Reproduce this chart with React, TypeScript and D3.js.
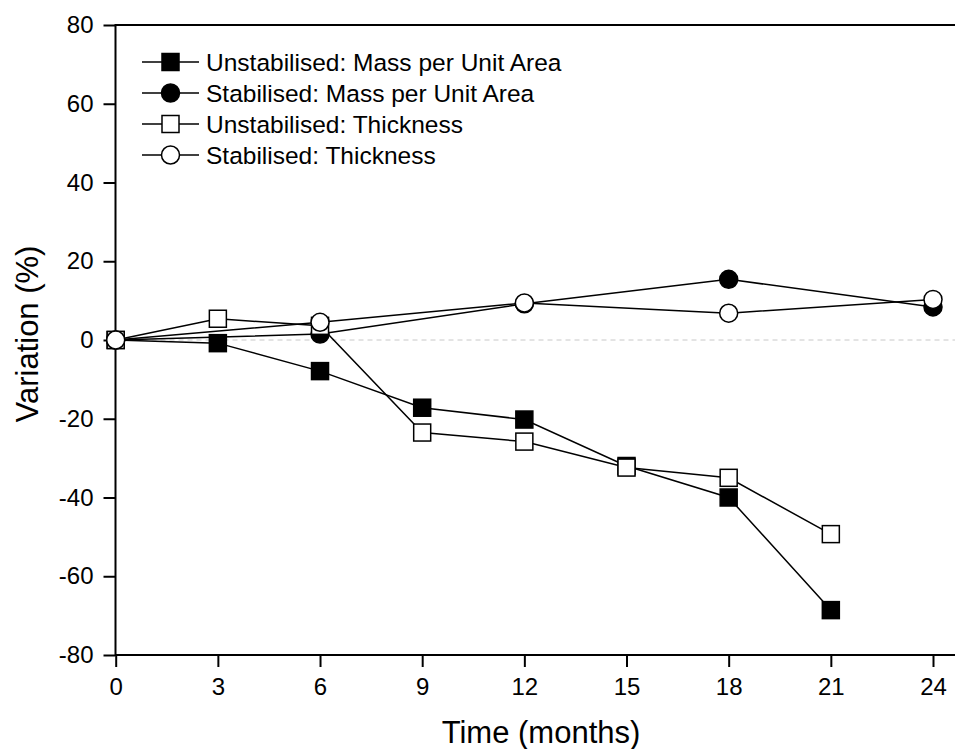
import React from 'react';
import * as d3 from 'd3';

// Time points (months) for each series
const monthsA = [0, 3, 6, 9, 12, 15, 18, 21];
const unstabMass = [0, -0.8, -7.9, -17.2, -20.2, -32, -40, -68.6];
const unstabThick = [0, 5.4, 3.6, -23.5, -25.8, -32.4, -35, -49.3];

const monthsB = [0, 6, 12, 18, 24];
const stabMass = [0, 1.5, 9.2, 15.4, 8.4];
const stabThick = [0, 4.5, 9.4, 6.8, 10.3];

const xTicks = [0, 3, 6, 9, 12, 15, 18, 21, 24];
const yTicks = [-80, -60, -40, -20, 0, 20, 40, 60, 80];

const seriesList = [
  { name: 'Unstabilised: Mass per Unit Area', x: monthsA, y: unstabMass, shape: 'square', fill: '#000' },
  { name: 'Stabilised: Mass per Unit Area', x: monthsB, y: stabMass, shape: 'circle', fill: '#000' },
  { name: 'Unstabilised: Thickness', x: monthsA, y: unstabThick, shape: 'square', fill: '#fff' },
  { name: 'Stabilised: Thickness', x: monthsB, y: stabThick, shape: 'circle', fill: '#fff' },
];

const App = () => {
  const ref = React.useRef<SVGSVGElement>(null);

  React.useEffect(() => {
    const svg = d3.select(ref.current);
    svg.selectAll('*').remove();

    const font = 'Arial, "Liberation Sans", sans-serif';
    const left = 115.5, top = 25, bottom = 655;
    const x = d3.scaleLinear().domain([0, 24]).range([115.7, 933]);
    const y = d3.scaleLinear().domain([-80, 80]).range([bottom, top]);

    // zero reference line
    svg.append('line')
      .attr('x1', left).attr('x2', 955)
      .attr('y1', y(0)).attr('y2', y(0))
      .attr('stroke', '#c8c8c8').attr('stroke-width', 1)
      .attr('stroke-dasharray', '5,4');

    // frame
    svg.append('rect')
      .attr('x', left).attr('y', top)
      .attr('width', 900).attr('height', bottom - top)
      .attr('fill', 'none').attr('stroke', '#000').attr('stroke-width', 2);

    // y axis
    const yAxis = svg.append('g')
      .attr('transform', `translate(${left},0)`)
      .call(d3.axisLeft(y).tickValues(yTicks).tickSize(12).tickPadding(10).tickFormat((d) => String(d)));
    yAxis.select('.domain').remove();
    yAxis.selectAll('line').attr('stroke-width', 2);
    yAxis.selectAll('text')
      .attr('font-family', font).attr('font-size', 24).attr('fill', '#000');

    // x axis
    const xAxis = svg.append('g')
      .attr('transform', `translate(0,${bottom})`)
      .call(d3.axisBottom(x).tickValues(xTicks).tickSize(12).tickPadding(11).tickFormat((d) => String(d)));
    xAxis.select('.domain').remove();
    xAxis.selectAll('line').attr('stroke-width', 2);
    xAxis.selectAll('text')
      .attr('font-family', font).attr('font-size', 24).attr('fill', '#000');

    // axis titles
    svg.append('text')
      .attr('x', 541).attr('y', 743)
      .attr('text-anchor', 'middle')
      .style('font-family', font).style('font-size', '31px')
      .text('Time (months)');
    svg.append('text')
      .attr('transform', `translate(38,334) rotate(-90)`)
      .attr('text-anchor', 'middle')
      .style('font-family', font).style('font-size', '31px')
      .text('Variation (%)');

    const drawMarker = (g, shape, fill, cx, cy) => {
      if (shape === 'square') {
        g.append('rect')
          .attr('x', cx - 8.5).attr('y', cy - 8.5)
          .attr('width', 17).attr('height', 17)
          .attr('fill', fill).attr('stroke', '#000').attr('stroke-width', 1.5);
      } else {
        g.append('circle')
          .attr('cx', cx).attr('cy', cy).attr('r', 9)
          .attr('fill', fill).attr('stroke', '#000').attr('stroke-width', 1.5);
      }
    };

    const line = d3.line<[number, number]>().x((d) => x(d[0])).y((d) => y(d[1]));

    // series
    seriesList.forEach((s) => {
      const pts: [number, number][] = s.x.map((m, i) => [m, s.y[i]]);
      const g = svg.append('g');
      g.append('path')
        .attr('d', line(pts))
        .attr('fill', 'none').attr('stroke', '#000').attr('stroke-width', 1.5);
      pts.forEach((p) => drawMarker(g, s.shape, s.fill, x(p[0]), y(p[1])));
    });

    // legend
    const legend = svg.append('g');
    seriesList.forEach((s, i) => {
      const ly = 62 + i * 31;
      legend.append('line')
        .attr('x1', 142).attr('x2', 199)
        .attr('y1', ly).attr('y2', ly)
        .attr('stroke', '#000').attr('stroke-width', 1.5);
      drawMarker(legend, s.shape, s.fill, 170.5, ly);
      legend.append('text')
        .attr('x', 206).attr('y', ly)
        .attr('dy', '0.35em')
        .style('font-family', font).style('font-size', '24.5px')
        .text(s.name);
    });
  }, []);

  return (
    <svg
      ref={ref}
      width={955}
      height={749}
      style={{ position: 'absolute', left: 0, top: 0, background: '#fff' }}
    />
  );
};

export default App;
